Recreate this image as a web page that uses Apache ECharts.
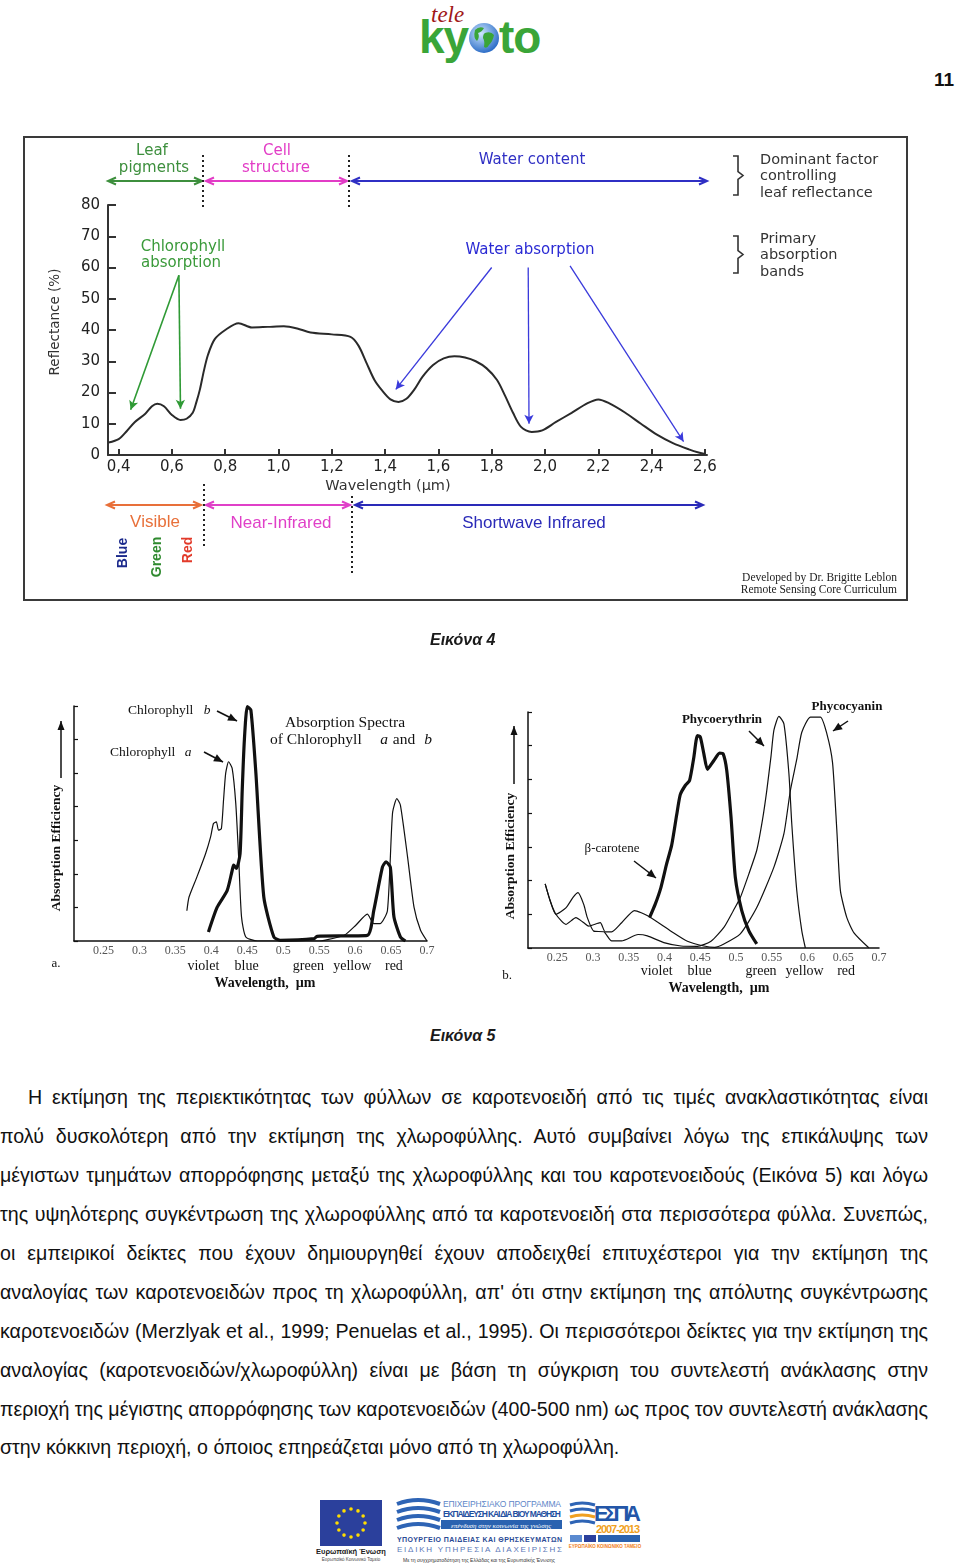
<!DOCTYPE html>
<html>
<head>
<meta charset="utf-8">
<title>Εικόνα 4 - Εικόνα 5</title>
<script src="https://cdn.jsdelivr.net/npm/echarts@6.0.0/dist/echarts.min.js"></script>
<style>
html,body{margin:0;padding:0;background:#fff;}
body{position:relative;width:960px;height:1565px;overflow:hidden;color:#111;}
#chart{position:absolute;left:0;top:0;width:960px;height:1010px;z-index:1;}
.abs{position:absolute;white-space:nowrap;line-height:1;}
.cap{font-family:'Liberation Sans',Arial,sans-serif;font-weight:bold;font-style:italic;font-size:16px;color:#1a1a1a;}
#para .ln{position:absolute;white-space:nowrap;font-family:'Liberation Sans',Arial,sans-serif;color:#111;}
#logo .tele{font-family:'Liberation Serif',serif;font-style:italic;font-size:23px;color:#a01818;}
#logo .ky{font-family:'Liberation Sans',Arial,sans-serif;font-weight:bold;font-size:46px;color:#3aa538;letter-spacing:-1px;}
</style>
</head>
<body>
<div id="chart"></div>

<div id="logo">
  <div class="abs tele" style="left:431px;top:3px;">tele</div>
  <div class="abs ky" style="left:419px;top:14px;">ky</div>
  <svg class="abs" style="left:467px;top:21px;" width="34" height="34" viewBox="0 0 34 34">
    <defs><radialGradient id="gg" cx="40%" cy="35%" r="65%"><stop offset="0" stop-color="#cfe8ff"/><stop offset="1" stop-color="#2f6fc8"/></radialGradient></defs>
    <circle cx="17" cy="17" r="15" fill="url(#gg)"/>
    <path d="M8 9 Q12 5 17 7 Q15 11 11 12 Q13 16 10 20 Q6 17 8 9Z" fill="#3aa538"/>
    <path d="M18 12 Q24 10 27 14 Q26 20 22 24 Q20 28 17 26 Q18 20 16 17 Q16 13 18 12Z" fill="#3aa538"/>
  </svg>
  <div class="abs ky" style="left:499px;top:14px;">to</div>
</div>
<div class="abs" style="left:934px;top:70px;font-family:'Liberation Sans',Arial,sans-serif;font-weight:bold;font-size:19px;color:#111;">11</div>

<div class="abs cap" style="left:430px;top:632px;z-index:2;">Εικόνα 4</div>
<div class="abs cap" style="left:430px;top:1028px;z-index:2;">Εικόνα 5</div>

<div id="para"></div>

<svg class="abs" style="left:300px;top:1490px;" width="360" height="75" viewBox="0 0 360 75">
  <rect x="20" y="10" width="62" height="46" fill="#2b409c"/>
  <g id="stars" fill="#ffdd00"></g>
  <text x="51" y="64" font-family="Liberation Sans" font-size="7.5" font-weight="bold" text-anchor="middle" fill="#222">Ευρωπαϊκή Ένωση</text>
  <text x="51" y="71" font-family="Liberation Sans" font-size="4.5" text-anchor="middle" fill="#444">Ευρωπαϊκό Κοινωνικό Ταμείο</text>
  <path d="M97 14 Q118 6 140 14" stroke="#2e64b5" stroke-width="4" fill="none"/>
  <path d="M97 22 Q118 14 140 22" stroke="#2e64b5" stroke-width="4" fill="none"/>
  <path d="M97 30 Q118 22 140 30" stroke="#2e64b5" stroke-width="4" fill="none"/>
  <path d="M97 38 Q118 30 140 38" stroke="#2e64b5" stroke-width="4" fill="none"/>
  <text x="143" y="17" font-family="Liberation Sans" font-size="8.5" fill="#5d86c8" textLength="118">ΕΠΙΧΕΙΡΗΣΙΑΚΟ ΠΡΟΓΡΑΜΜΑ</text>
  <text x="143" y="27" font-family="Liberation Sans" font-size="8.5" font-weight="bold" fill="#1f4fa0" textLength="118">ΕΚΠΑΙΔΕΥΣΗ ΚΑΙ ΔΙΑ ΒΙΟΥ ΜΑΘΗΣΗ</text>
  <rect x="141" y="30" width="121" height="9" fill="#2a62b0"/>
  <text x="201" y="37.5" font-family="Liberation Serif" font-style="italic" font-size="7" text-anchor="middle" fill="#fff">επένδυση στην κοινωνία της γνώσης</text>
  <text x="97" y="52" font-family="Liberation Sans" font-size="7" font-weight="bold" fill="#2a4a95" textLength="165">ΥΠΟΥΡΓΕΙΟ ΠΑΙΔΕΙΑΣ ΚΑΙ ΘΡΗΣΚΕΥΜΑΤΩΝ</text>
  <text x="97" y="62" font-family="Liberation Sans" font-size="8" fill="#5a78b8" textLength="165">ΕΙΔΙΚΗ ΥΠΗΡΕΣΙΑ ΔΙΑΧΕΙΡΙΣΗΣ</text>
  <text x="179" y="72" font-family="Liberation Sans" font-size="5" text-anchor="middle" fill="#333">Με τη συγχρηματοδότηση της Ελλάδας και της Ευρωπαϊκής Ένωσης</text>
  <path d="M270 15 Q282 11 295 15" stroke="#2e64b5" stroke-width="3" fill="none"/>
  <path d="M270 21 Q282 17 295 21" stroke="#2e64b5" stroke-width="3" fill="none"/>
  <path d="M270 27 Q282 23 295 27" stroke="#f0a020" stroke-width="3" fill="none"/>
  <path d="M270 33 Q282 29 295 33" stroke="#2e64b5" stroke-width="3" fill="none"/>
  <text x="294" y="31" font-family="Liberation Sans" font-size="22" font-weight="bold" fill="#2356a8" textLength="47">ΕΣΠΑ</text>
  <text x="296" y="43" font-family="Liberation Sans" font-size="11" font-weight="bold" fill="#f0a020" textLength="44">2007-2013</text>
  <rect x="270" y="45" width="12" height="7" fill="#5a8ad0"/>
  <rect x="284" y="45" width="12" height="7" fill="#2b409c"/>
  <rect x="298" y="45" width="42" height="7" fill="#2a62b0"/>
  <text x="305" y="58" font-family="Liberation Sans" font-size="4.5" font-weight="bold" text-anchor="middle" fill="#f08020">ΕΥΡΩΠΑΪΚΟ ΚΟΙΝΩΝΙΚΟ ΤΑΜΕΙΟ</text>
</svg>

<script>
// ---------------- DATA ----------------
// Figure 4: leaf reflectance spectrum
const fig4Wavelength = [0.362,0.40,0.43,0.46,0.50,0.525,0.545,0.57,0.60,0.632,0.655,0.678,0.692,0.705,0.72,0.735,0.76,0.80,0.85,0.90,0.96,1.02,1.07,1.12,1.20,1.27,1.30,1.33,1.36,1.39,1.42,1.45,1.48,1.51,1.54,1.58,1.62,1.66,1.70,1.74,1.78,1.82,1.85,1.88,1.91,1.95,1.99,2.04,2.10,2.16,2.20,2.24,2.30,2.36,2.42,2.48,2.54,2.58,2.60];
const fig4Reflectance = [4.0,5.1,7.6,10.5,13.2,15.6,16.4,15.6,12.8,11.2,11.6,13.5,17,21,27,32,37,40,42.2,40.8,41,41.2,40.5,39.2,38.6,37.8,35,29.5,24,20.5,17.8,17.0,18.0,21,25,28.8,30.9,31.6,31.2,30,27.8,24,19,13.5,9,7.4,7.9,10.5,13.5,16.6,17.8,16.6,13.6,10,6.5,3.8,1.8,0.7,0.3];
const fig4XTicks = [0.4,0.6,0.8,1.0,1.2,1.4,1.6,1.8,2.0,2.2,2.4,2.6];
const fig4XTickLabels = ['0,4','0,6','0,8','1,0','1,2','1,4','1,6','1,8','2,0','2,2','2,4','2,6'];
// absorption arrows: [from wavelength, from %, to wavelength, to %]
const chlorophyllArrows = [[0.626,57.5,0.445,14.5],[0.626,57.5,0.632,14.8]];
const waterArrows = [[1.80,60,1.44,21],[1.937,60,1.94,10],[2.094,60.5,2.52,4.3]];

// Figure 5a: chlorophyll a and b absorption
const chlAWavelength = [0.366,0.369,0.380,0.392,0.399,0.403,0.407,0.410,0.414,0.417,0.420,0.424,0.429,0.434,0.438,0.442,0.448,0.464,0.50,0.55,0.557,0.585,0.601,0.617,0.626,0.635,0.645,0.652,0.658,0.663,0.673,0.682,0.691,0.70];
const chlAAbsorption = [0.9,1.31,1.91,2.6,3.1,3.5,3.55,3.3,3.35,4.2,5.0,5.34,5.14,4.1,2.5,0.72,0.12,0,0,0,0.02,0.17,0.47,0.8,0.52,0.52,0.91,3.8,4.24,4.05,2.5,1.0,0.32,0];
const chlBWavelength = [0.396,0.408,0.422,0.429,0.431,0.435,0.44,0.443,0.446,0.45,0.455,0.462,0.473,0.487,0.496,0.543,0.547,0.617,0.626,0.638,0.643,0.649,0.654,0.663,0.67];
const chlBAbsorption = [0.27,1.0,1.5,2.1,2.26,2.16,2.6,4.5,6.0,6.98,6.88,5.0,1.31,0.12,0.02,0.07,0.14,0.17,0.91,2.2,2.36,2.2,0.72,0.12,0];

// Figure 5b: accessory pigments
const betaWavelength = [0.379,0.387,0.395,0.403,0.41,0.417,0.422,0.429,0.435,0.441,0.446,0.45,0.455,0.46,0.469,0.477,0.482,0.487,0.493,0.499,0.508,0.518,0.529];
const betaAbsorption = [0.9,1.3,1.8,2.5,3.05,3.95,4.55,4.82,4.97,5.66,6.3,6.26,5.76,5.3,5.56,5.78,5.76,5.27,3.88,2.1,1.11,0.51,0.12];
const phycoerythrinWavelength = [0.233,0.240,0.248,0.262,0.272,0.279,0.287,0.292,0.301,0.315,0.326,0.340,0.363,0.376,0.399,0.423,0.446,0.465,0.483,0.496,0.506,0.518,0.529,0.537,0.543,0.549,0.553,0.560,0.567,0.574,0.578,0.585,0.592,0.597];
const phycoerythrinAbsorption = [1.9,1.4,1.0,1.19,1.5,1.64,1.29,0.9,0.5,0.48,0.21,0.21,0.4,0.36,0.16,0.06,0.05,0.2,0.61,1.1,1.5,2.2,2.9,3.8,4.67,5.7,6.46,6.87,6.65,5.17,3.68,1.7,0.51,0];
const phycocyaninWavelength = [0.233,0.240,0.248,0.262,0.276,0.287,0.294,0.310,0.317,0.326,0.340,0.358,0.377,0.409,0.432,0.455,0.470,0.483,0.506,0.529,0.553,0.567,0.576,0.585,0.592,0.604,0.618,0.627,0.635,0.641,0.646,0.655,0.665,0.686];
const phycocyaninAbsorption = [1.9,1.4,1.0,0.7,0.9,0.75,0.65,0.75,0.48,0.48,0.75,1.11,0.95,0.5,0.2,0.06,0.02,0.12,0.42,1.2,2.4,3.39,4.67,5.6,6.4,6.85,6.85,6.36,5.5,3.5,1.7,0.9,0.45,0];

const fig5XTicks = [0.25,0.3,0.35,0.4,0.45,0.5,0.55,0.6,0.65,0.7];
const fig5XTickLabels = ['0.25','0.3','0.35','0.4','0.45','0.5','0.55','0.6','0.65','0.7'];
const colorBandNames = ['violet','blue','green','yellow','red'];
const colorBandWavelength = [0.389,0.449,0.535,0.596,0.654];

const paraLines = [
 'Η εκτίμηση της περιεκτικότητας των φύλλων σε καροτενοειδή από τις τιμές ανακλαστικότητας είναι',
 'πολύ δυσκολότερη από την εκτίμηση της χλωροφύλλης. Αυτό συμβαίνει λόγω της επικάλυψης των',
 'μέγιστων τμημάτων απορρόφησης μεταξύ της χλωροφύλλης και του καροτενοειδούς (Εικόνα 5) και λόγω',
 'της υψηλότερης συγκέντρωση της χλωροφύλλης από τα καροτενοειδή στα περισσότερα φύλλα. Συνεπώς,',
 'οι εμπειρικοί δείκτες που έχουν δημιουργηθεί έχουν αποδειχθεί επιτυχέστεροι για την εκτίμηση της',
 'αναλογίας των καροτενοειδών προς τη χλωροφύλλη, απ\' ότι στην εκτίμηση της απόλυτης συγκέντρωσης',
 'καροτενοειδών (Merzlyak et al., 1999; Penuelas et al., 1995). Οι περισσότεροι δείκτες για την εκτίμηση της',
 'αναλογίας (καροτενοειδών/χλωροφύλλη) είναι με βάση τη σύγκριση του συντελεστή ανάκλασης στην',
 'περιοχή της μέγιστης απορρόφησης των καροτενοειδών (400-500 nm) ως προς τον συντελεστή ανάκλασης',
 'στην κόκκινη περιοχή, ο όποιος επηρεάζεται μόνο από τη χλωροφύλλη.'
];

// ---------------- HELPERS ----------------
const zip = (a, b) => a.map((v, i) => [v, b[i]]);
function arrowEls(x1, y1, x2, y2, o) {
  const c = o.color, w = o.width || 1.5, L = o.len || 7, H = o.half || 3.5;
  const els = [{type:'line', z:50, silent:true, shape:{x1, y1, x2, y2}, style:{stroke:c, lineWidth:w}}];
  const heads = [];
  if (o.end !== false) heads.push([x1, y1, x2, y2]);
  if (o.start) heads.push([x2, y2, x1, y1]);
  heads.forEach(([ax, ay, bx, by]) => {
    const dx = bx - ax, dy = by - ay, d = Math.hypot(dx, dy), ux = dx / d, uy = dy / d, nx = -uy, ny = ux;
    const p1 = [bx - L * ux + H * nx, by - L * uy + H * ny], p2 = [bx - L * ux - H * nx, by - L * uy - H * ny];
    if (o.filled) els.push({type:'polygon', z:50, silent:true, shape:{points:[[bx, by], p1, p2]}, style:{fill:c}});
    else els.push({type:'polyline', z:50, silent:true, shape:{points:[p1, [bx, by], p2]}, style:{stroke:c, lineWidth:w, fill:null}});
  });
  return els;
}
function txt(text, x, y, o) {
  o = o || {};
  return {type:'text', z:60, silent:true, x, y, rotation:o.rot || 0,
    style:{text, x:0, y:0, fill:o.color || '#222', fontSize:o.size || 14, fontFamily:o.family || 'DejaVu Sans',
      fontWeight:o.weight || 'normal', fontStyle:o.fstyle || 'normal', align:o.align || 'center', verticalAlign:'middle'}};
}
function vdots(x, y1, y2) {
  return {type:'line', z:50, silent:true, shape:{x1:x, y1, x2:x, y2}, style:{stroke:'#222', lineWidth:2, lineDash:[2, 3]}};
}
function brace(x, yTop, yBot) {
  const m = (yTop + yBot) / 2;
  return {type:'polyline', z:50, silent:true, shape:{points:[[x - 5, yTop], [x, yTop], [x, m - 4], [x + 5, m], [x, m + 4], [x, yBot], [x - 5, yBot]]},
    style:{stroke:'#333', lineWidth:1.6, fill:null}};
}

// ---------------- CHART ----------------
const chart = echarts.init(document.getElementById('chart'), null, {renderer:'canvas'});
const serif = 'Liberation Serif';
const fig5Axis = (grid, min, max) => ({
  type:'value', gridIndex:grid, min, max,
  axisLine:{lineStyle:{color:'#111', width:1.5}},
  axisTick:{show:false},
  splitLine:{show:false},
  axisLabel:{customValues:fig5XTicks, formatter:v => fig5XTickLabels[fig5XTicks.indexOf(v)], color:'#555', fontSize:12, fontFamily:serif, margin:4}
});
const fig5YAxis = grid => ({
  type:'value', gridIndex:grid, min:0, max:7, interval:1,
  axisLine:{show:true, lineStyle:{color:'#111', width:1.5}},
  axisTick:{show:true, inside:true, length:4, lineStyle:{color:'#111', width:1.2}},
  axisLabel:{show:false}, splitLine:{show:false}
});
const lineSeries = (name, xi, wl, val, width, smooth) => ({
  name, type:'line', xAxisIndex:xi, yAxisIndex:xi, data:zip(wl, val), showSymbol:false, smooth:smooth,
  lineStyle:{color:'#111', width}, silent:true, z:10
});

const markArrows = [];
chlorophyllArrows.forEach(a => markArrows.push([{coord:[a[0], a[1]], lineStyle:{color:'#2f9a35', width:1.6, type:'solid'}}, {coord:[a[2], a[3]]}]));
waterArrows.forEach(a => markArrows.push([{coord:[a[0], a[1]], lineStyle:{color:'#3a3adb', width:1.3, type:'solid'}}, {coord:[a[2], a[3]]}]));

chart.setOption({
  animation:false,
  backgroundColor:'transparent',
  grid:[
    {left:108, top:205, width:599, height:250},
    {left:74, top:706, width:353, height:235},
    {left:528, top:712, width:351, height:236}
  ],
  xAxis:[
    {type:'value', gridIndex:0, min:0.36, max:2.608,
      axisLine:{lineStyle:{color:'#333', width:2}},
      axisTick:{customValues:fig4XTicks, inside:true, length:6, lineStyle:{color:'#333', width:2}},
      axisLabel:{customValues:fig4XTicks, formatter:v => fig4XTickLabels[fig4XTicks.indexOf(v)], color:'#222', fontSize:15, fontFamily:'DejaVu Sans', margin:5},
      splitLine:{show:false}},
    fig5Axis(1, 0.209, 0.7),
    fig5Axis(2, 0.209, 0.7)
  ],
  yAxis:[
    {type:'value', gridIndex:0, min:0, max:80, interval:10,
      axisLine:{show:true, lineStyle:{color:'#333', width:2}},
      axisTick:{show:true, inside:true, length:8, lineStyle:{color:'#333', width:2}},
      axisLabel:{color:'#222', fontSize:15, fontFamily:'DejaVu Sans', margin:8},
      splitLine:{show:false}},
    fig5YAxis(1),
    fig5YAxis(2)
  ],
  series:[
    Object.assign(lineSeries('Reflectance', 0, fig4Wavelength, fig4Reflectance, 2, 0.3), {
      lineStyle:{color:'#2a2a2a', width:2},
      markLine:{silent:true, animation:false, symbol:['none', 'arrow'], symbolSize:[7, 9], label:{show:false}, emphasis:{disabled:true}, data:markArrows}
    }),
    lineSeries('Chlorophyll a', 1, chlAWavelength, chlAAbsorption, 1.2, 0.2),
    lineSeries('Chlorophyll b', 1, chlBWavelength, chlBAbsorption, 3.2, 0.2),
    lineSeries('β-carotene', 2, betaWavelength, betaAbsorption, 3.2, 0.2),
    lineSeries('Phycoerythrin', 2, phycoerythrinWavelength, phycoerythrinAbsorption, 1.2, 0.2),
    lineSeries('Phycocyanin', 2, phycocyaninWavelength, phycocyaninAbsorption, 1.2, 0.2)
  ]
});

// ---------- annotations ----------
const G = [];
// Figure 4 frame
G.push({type:'rect', z:40, silent:true, shape:{x:24, y:137, width:883, height:463}, style:{stroke:'#3a3a3a', lineWidth:2, fill:null}});
// top factor arrows
const green = '#3d8f3d', magenta = '#e23cc6', blue = '#2f2fc4';
G.push(...arrowEls(108, 181, 202, 181, {color:green, width:2, start:true, len:8, half:3.5}));
G.push(...arrowEls(206, 181, 347, 181, {color:magenta, width:2, start:true, len:8, half:3.5}));
G.push(...arrowEls(352, 181, 707, 181, {color:blue, width:2, start:true, len:8, half:3.5}));
G.push(vdots(203, 155, 207), vdots(349, 155, 207));
G.push(txt('Leaf', 152, 151, {color:green, size:15}), txt('pigments', 154, 168, {color:green, size:15}));
G.push(txt('Cell', 277, 151, {color:magenta, size:15}), txt('structure', 276, 168, {color:magenta, size:15}));
G.push(txt('Water content', 532, 160, {color:blue, size:15}));
G.push(brace(738, 156, 195), brace(738, 236, 273));
['Dominant factor', 'controlling', 'leaf reflectance'].forEach((t, i) => G.push(txt(t, 760, 160 + i * 16.5, {align:'left', color:'#333', size:14.5})));
['Primary', 'absorption', 'bands'].forEach((t, i) => G.push(txt(t, 760, 239 + i * 16.5, {align:'left', color:'#333', size:14.5})));
G.push(txt('Chlorophyll', 183, 247, {color:'#3a9a3a', size:15}), txt('absorption', 181, 263, {color:'#3a9a3a', size:15}));
G.push(txt('Water absorption', 530, 250, {color:'#2a2ad4', size:15}));
G.push(txt('Reflectance (%)', 55, 322, {rot:Math.PI / 2, color:'#333', size:13.5}));
G.push(txt('Wavelength (\u00b5m)', 388, 486, {color:'#333', size:14.5}));
// bottom spectral regions
const orange = '#e8703a';
G.push(...arrowEls(107, 505, 201, 505, {color:orange, width:2, start:true, len:8, half:3.5}));
G.push(...arrowEls(206, 505, 350, 505, {color:'#e040c8', width:2, start:true, len:8, half:3.5}));
G.push(...arrowEls(355, 505, 703, 505, {color:'#2a2ab8', width:2, start:true, len:8, half:3.5}));
G.push(vdots(204, 484, 548), vdots(352, 496, 573));
G.push(txt('Visible', 155, 522, {color:orange, size:17, family:'Liberation Sans'}));
G.push(txt('Near-Infrared', 281, 523, {color:'#e040c8', size:17, family:'Liberation Sans'}));
G.push(txt('Shortwave Infrared', 534, 523, {color:'#2a2ab8', size:17, family:'Liberation Sans'}));
G.push(txt('Blue', 123, 553, {rot:Math.PI / 2, color:'#1c2a8c', size:14, weight:'bold', family:'Liberation Sans'}));
G.push(txt('Green', 157, 557, {rot:Math.PI / 2, color:'#2f8a2f', size:14, weight:'bold', family:'Liberation Sans'}));
G.push(txt('Red', 188, 550, {rot:Math.PI / 2, color:'#e23b2b', size:14, weight:'bold', family:'Liberation Sans'}));
G.push(txt('Developed by Dr. Brigitte Leblon', 897, 578, {align:'right', family:serif, size:11.5, color:'#222'}));
G.push(txt('Remote Sensing Core Curriculum', 897, 590, {align:'right', family:serif, size:11.5, color:'#222'}));

// Figure 5a
G.push(txt('Chlorophyll', 128, 710, {align:'left', family:serif, size:13.5, color:'#111'}));
G.push(txt('b', 207, 710, {family:serif, size:13.5, fstyle:'italic', color:'#111'}));
G.push(...arrowEls(217, 711, 237, 721, {color:'#111', width:1.6, filled:true, len:9, half:4}));
G.push(txt('Chlorophyll', 110, 752, {align:'left', family:serif, size:13.5, color:'#111'}));
G.push(txt('a', 188, 752, {family:serif, size:13.5, fstyle:'italic', color:'#111'}));
G.push(...arrowEls(204, 752, 223, 762, {color:'#111', width:1.6, filled:true, len:9, half:4}));
G.push(txt('Absorption Spectra', 345, 723, {family:serif, size:15.5, color:'#111'}));
G.push(txt('of Chlorophyll', 270, 740, {align:'left', family:serif, size:15.5, color:'#111'}));
G.push(txt('a', 384, 740, {family:serif, size:15.5, fstyle:'italic', color:'#111'}));
G.push(txt('and', 404, 740, {family:serif, size:15.5, color:'#111'}));
G.push(txt('b', 428, 740, {family:serif, size:15.5, fstyle:'italic', color:'#111'}));
G.push(txt('Absorption Efficiency', 57, 848, {rot:Math.PI / 2, family:serif, size:13.5, weight:'bold', color:'#111'}));
G.push(...arrowEls(61, 778, 61, 721, {color:'#111', width:1.5, filled:true, len:9, half:3.5}));
G.push(txt('a.', 56, 964, {family:serif, size:13, color:'#111'}));
G.push(txt('Wavelength,  \u00b5m', 265, 983, {family:serif, size:14, weight:'bold', color:'#111'}));

// Figure 5b
G.push(txt('Phycoerythrin', 722, 720, {family:serif, size:13, weight:'bold', color:'#111'}));
G.push(...arrowEls(749, 731, 764, 746, {color:'#111', width:1.5, filled:true, len:9, half:4}));
G.push(txt('Phycocyanin', 847, 707, {family:serif, size:13, weight:'bold', color:'#111'}));
G.push(...arrowEls(848, 721, 833, 731, {color:'#111', width:1.5, filled:true, len:9, half:4}));
G.push(txt('\u03b2-carotene', 612, 849, {family:serif, size:13, color:'#111'}));
G.push(...arrowEls(634, 861, 656, 878, {color:'#111', width:1.5, filled:true, len:9, half:4}));
G.push(txt('Absorption Efficiency', 511, 856, {rot:Math.PI / 2, family:serif, size:13.5, weight:'bold', color:'#111'}));
G.push(...arrowEls(514, 784, 514, 726, {color:'#111', width:1.5, filled:true, len:9, half:3.5}));
G.push(txt('b.', 507, 976, {family:serif, size:13, color:'#111'}));
G.push(txt('Wavelength,  \u00b5m', 719, 988, {family:serif, size:14, weight:'bold', color:'#111'}));

// colour names under the wavelength axes, placed through the axis scales
[[1, 966], [2, 971]].forEach(([gi, y]) => {
  colorBandNames.forEach((n, i) => {
    const px = chart.convertToPixel({gridIndex:gi}, [colorBandWavelength[i], 0]);
    G.push(txt(n, px[0], y, {family:serif, size:14, color:'#111'}));
  });
});
chart.setOption({graphic:G});

// ---------------- PARAGRAPH ----------------
(function () {
  const para = document.getElementById('para');
  const lineCenters = [1099, 1138, 1177, 1216, 1255, 1294, 1333, 1372, 1411, 1449];
  const spans = paraLines.map((t, i) => {
    const s = document.createElement('span');
    s.className = 'ln';
    s.textContent = t;
    s.style.fontSize = '20px';
    para.appendChild(s);
    return s;
  });
  const lastW = spans[spans.length - 1].getBoundingClientRect().width;
  const fs = 20 * 620 / lastW;
  spans.forEach((s, i) => {
    s.style.fontSize = fs + 'px';
    s.style.lineHeight = '1';
    const left = i === 0 ? 28 : 0;
    s.style.left = left + 'px';
    s.style.top = (lineCenters[i] - fs * 0.55) + 'px';
  });
  spans.forEach((s, i) => {
    if (i === spans.length - 1) return;
    const w = s.getBoundingClientRect().width;
    const left = i === 0 ? 28 : 0;
    const spaces = (paraLines[i].match(/ /g) || []).length;
    s.style.wordSpacing = ((928 - left - w) / spaces) + 'px';
  });
})();

// EU stars
(function () {
  const g = document.getElementById('stars');
  for (let i = 0; i < 12; i++) {
    const a = i / 12 * 2 * Math.PI;
    const c = document.createElementNS('http://www.w3.org/2000/svg', 'circle');
    c.setAttribute('cx', 51 + 14 * Math.cos(a));
    c.setAttribute('cy', 33 + 14 * Math.sin(a));
    c.setAttribute('r', 1.8);
    g.appendChild(c);
  }
})();
</script>
</body>
</html>
